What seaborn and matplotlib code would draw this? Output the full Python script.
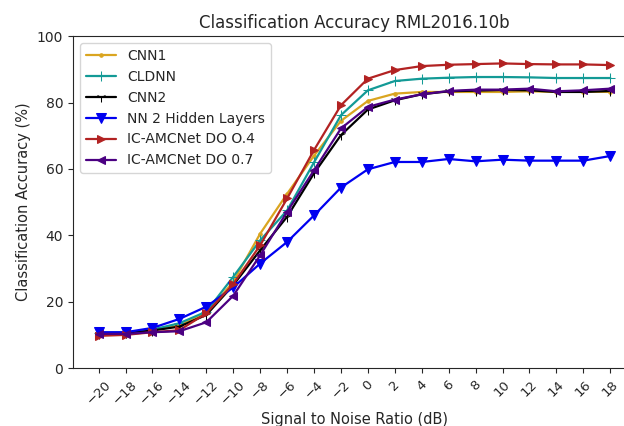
# Classification accuracy vs SNR on RML2016.10b
import numpy as np
import pandas as pd
import seaborn as sns
import matplotlib
matplotlib.use("Agg")
import matplotlib.pyplot as plt

snr = list(range(-20, 20, 2))

cnn1 = [10.5, 10.6, 11.5, 12.8, 16.5, 26.0, 40.5, 52.5, 64.0, 74.5, 80.5, 82.7, 83.2, 83.2, 83.2, 83.2, 83.4, 83.2, 83.3, 83.2]
cldnn = [10.6, 10.7, 11.6, 13.5, 17.0, 27.5, 38.5, 47.5, 62.0, 76.2, 83.7, 86.5, 87.2, 87.5, 87.7, 87.7, 87.6, 87.4, 87.4, 87.4]
cnn2 = [10.4, 10.5, 11.3, 12.5, 16.0, 25.0, 35.5, 45.6, 58.7, 70.2, 77.9, 80.7, 82.5, 83.4, 83.6, 83.8, 83.7, 83.2, 83.2, 83.5]
nn2 = [10.8, 10.8, 12.1, 14.8, 18.5, 24.3, 31.5, 38.0, 46.0, 54.4, 59.9, 62.1, 62.1, 63.0, 62.3, 62.8, 62.5, 62.5, 62.5, 63.9]
do04 = [9.7, 10.0, 10.8, 11.4, 16.5, 25.3, 37.0, 51.1, 65.7, 79.2, 87.2, 89.8, 91.0, 91.4, 91.6, 91.8, 91.6, 91.5, 91.5, 91.3]
do07 = [10.3, 10.3, 10.8, 11.1, 13.8, 21.8, 34.0, 47.1, 59.6, 72.2, 78.7, 80.9, 82.5, 83.5, 83.9, 83.9, 84.2, 83.4, 83.7, 84.2]

names = ["CNN1", "CLDNN", "CNN2", "NN 2 Hidden Layers", "IC-AMCNet DO O.4", "IC-AMCNet DO 0.7"]
series = [cnn1, cldnn, cnn2, nn2, do04, do07]
colors = ["#DAA520", "#139A96", "#000000", "#0000F0", "#B22222", "#4B0082"]
markers = [".", "+", "1", "v", ">", "<"]
msizes = [5, 6.5, 6.5, 6.5, 5.5, 5.5]

sns.set_style("ticks")
plt.rcParams['font.family'] = ['DejaVu Sans']

fig = plt.figure(figsize=(6.24, 4.26), dpi=100)
ax = fig.add_axes([0.117, 0.136, 0.902, 0.779])

for name, vals, c, m, ms in zip(names, series, colors, markers, msizes):
    sns.lineplot(x=snr, y=vals, ax=ax, color=c, marker=m, markersize=ms,
                 markeredgecolor=c, linewidth=1.6, label=name)

ax.set_xlim(-21.9, 19.9)
ax.set_ylim(0, 100)
ax.set_xticks(snr)
ax.set_xticklabels([str(s).replace("-", "\u2212") for s in snr], rotation=45, fontsize=9.5)
ax.tick_params(axis="y", labelsize=10)
ax.set_title("Classification Accuracy RML2016.10b", fontsize=12)
ax.set_xlabel("Signal to Noise Ratio (dB)", fontsize=10.5)
ax.set_ylabel("Classification Accuracy (%)", fontsize=10.5)
ax.legend(loc="upper left", fontsize=10, frameon=True, handlelength=2.2)

plt.savefig("out.png", dpi=100)
